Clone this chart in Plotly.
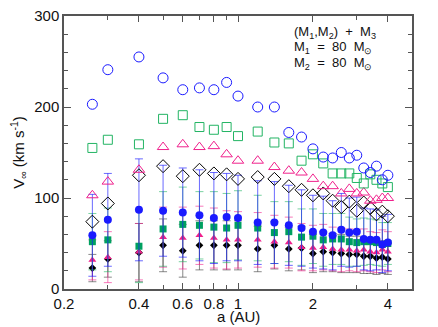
import plotly.graph_objects as go

a = [0.26, 0.3, 0.4, 0.5, 0.6, 0.7, 0.8, 0.9, 1.0, 1.2, 1.4, 1.6, 1.8, 2.0,
     2.2, 2.4, 2.6, 2.8, 3.0, 3.2, 3.4, 3.6, 3.8, 4.0]

# open symbols
v_circ_open = [203, 241, 255, 232, 219, 221, 219, 227, 212, 200, 200, 172, 167, 154,
               145, 144, 150, 144, 147, 133, 128, 135, 120, 125]
v_sq_open = [155, 164, 159, 187, 191, 178, 175, 178, 168, 173, 161, 160, 141, 148,
             138, 127, 127, 127, 122, 116, 126, 120, 116, 112]
v_tri_open = [103, 118, 131, 156, 159, 156, 157, 148, 141, 141, 134, 130, 128, 121,
              113, 113, 105, 110, 105, 106, 97, 98, 100, 100]
v_dia_open = [74, 94, 125, 135, 124, 131, 127, 126, 121, 123, 121, 113, 109, 103,
              105, 97, 90, 96, 86, 95, 89, 82, 85, 80]

# filled symbols with error bars
v_circ = [59, 76, 87, 86, 84, 81, 78, 79, 78, 73, 73, 70, 67, 63,
          62, 59, 65, 62, 63, 55, 54, 54, 49, 51]
e_circ = [45, 51, 56, 50, 49, 50, 50, 48, 47, 46, 45, 44, 42, 40,
          40, 38, 40, 38, 38, 34, 34, 33, 31, 31]
v_sq = [52, 54, 47, 66, 71, 70, 68, 67, 70, 67, 62, 63, 57, 58,
        54, 55, 55, 52, 51, 52, 52, 51, 49, 50]
e_sq = [31, 35, 40, 41, 41, 37, 39, 38, 38, 36, 34, 33, 31, 30,
        29, 28, 28, 27, 26, 26, 25, 25, 24, 23]
v_tri = [32, 35, 41, 57, 56, 59, 56, 54, 54, 54, 52, 51, 46, 45,
         46, 44, 43, 43, 42, 43, 41, 40, 43, 41]
e_tri = [22, 28, 31, 33, 34, 32, 33, 32, 31, 30, 29, 28, 26, 25,
         25, 24, 24, 23, 23, 23, 22, 22, 22, 22]
v_dia = [23, 33, 40, 48, 42, 48, 48, 48, 48, 44, 48, 44, 45, 39,
         41, 40, 39, 38, 38, 36, 36, 34, 35, 33]
e_dia = [15, 20, 32, 29, 29, 27, 27, 27, 27, 25, 26, 24, 24, 21,
         22, 21, 21, 20, 20, 19, 19, 18, 18, 17]

blue = "#1a1aff"
green = "#22b463"
pink = "#f0208c"
black = "#000000"

fig = go.Figure()


def err(vals, col):
    return dict(type="data", array=vals, visible=True, color=col, thickness=1, width=4)


fig.add_trace(go.Scatter(x=a, y=v_dia, mode="markers", error_y=err(e_dia, "rgba(60,60,60,0.6)"),
                         marker=dict(symbol="diamond", size=6, color=black)))
fig.add_trace(go.Scatter(x=a, y=v_tri, mode="markers", error_y=err(e_tri, "rgba(240,32,140,0.6)"),
                         marker=dict(symbol="triangle-up", size=7, color=pink)))
fig.add_trace(go.Scatter(x=a, y=v_sq, mode="markers", error_y=err(e_sq, "rgba(34,180,99,0.6)"),
                         marker=dict(symbol="square", size=7, color="#00a060")))
fig.add_trace(go.Scatter(x=a, y=v_circ, mode="markers", error_y=err(e_circ, "rgba(26,26,255,0.65)"),
                         marker=dict(symbol="circle", size=8, color=blue)))

fig.add_trace(go.Scatter(x=a, y=v_dia_open, mode="markers",
                         marker=dict(symbol="diamond-open", size=10, color=black, line=dict(width=1))))
fig.add_trace(go.Scatter(x=a, y=v_tri_open, mode="markers",
                         marker=dict(symbol="triangle-up-open", size=10, color=pink, line=dict(width=1))))
fig.add_trace(go.Scatter(x=a, y=v_sq_open, mode="markers",
                         marker=dict(symbol="square-open", size=9, color=green, line=dict(width=1))))
fig.add_trace(go.Scatter(x=a, y=v_circ_open, mode="markers",
                         marker=dict(symbol="circle-open", size=10, color=blue, line=dict(width=1))))

axis_font = dict(family="Liberation Sans, Arial, sans-serif", size=15, color="#111")

# the page body has an 8px margin, so the figure is drawn 8px right and down
fig.update_layout(
    width=430, height=319,
    margin=dict(l=56, r=26, t=8, b=38),
    paper_bgcolor="white", plot_bgcolor="white",
    showlegend=False,
    font=axis_font,
    xaxis=dict(type="log", range=[-0.699, 0.699], automargin=False,
               tickvals=[0.2, 0.4, 0.6, 0.8, 1, 2, 4],
               ticktext=["0.2", "0.4", "0.6", "0.8", "1", "2", "4"],
               ticks="inside", ticklen=6, tickcolor="#555", ticklabeloverflow="allow",
               minor=dict(tickvals=[0.3, 0.5, 0.7, 0.9, 3], ticks="inside", ticklen=4, tickcolor="#555"),
               showline=True, linecolor="#555", linewidth=1.5, mirror="ticks",
               showgrid=False, zeroline=False),
    yaxis=dict(range=[0, 300], tickvals=[0, 100, 200, 300], automargin=False,
               ticks="inside", ticklen=7, tickcolor="#555", ticklabeloverflow="allow",
               minor=dict(dtick=20, ticks="inside", ticklen=4, tickcolor="#555"),
               showline=True, linecolor="#555", linewidth=1.5, mirror="ticks",
               showgrid=False, zeroline=False,
               title=dict(text="V<sub>∞</sub> (km s<sup>-1</sup>)", standoff=6, font=dict(size=15))),
)

fig.add_annotation(x=0.5, y=-0.1, xref="paper", yref="paper", text="a (AU)",
                   showarrow=False, xanchor="center", yanchor="middle",
                   font=dict(family="Liberation Sans, Arial, sans-serif", size=15, color="#111"))

ann = ["(M<sub>1</sub>,M<sub>2</sub>)  +  M<sub>3</sub>",
       "M<sub>1</sub>  =  80  M<sub>⊙</sub>",
       "M<sub>2</sub>  =  80  M<sub>⊙</sub>"]
for i, t in enumerate(ann):
    fig.add_annotation(x=0.655, y=0.94 - i * 0.057, xref="paper", yref="paper",
                       text=t, showarrow=False, xanchor="left", yanchor="middle",
                       font=dict(family="Liberation Sans, Arial, sans-serif", size=13, color="#111"))

fig.write_html("out.html")
